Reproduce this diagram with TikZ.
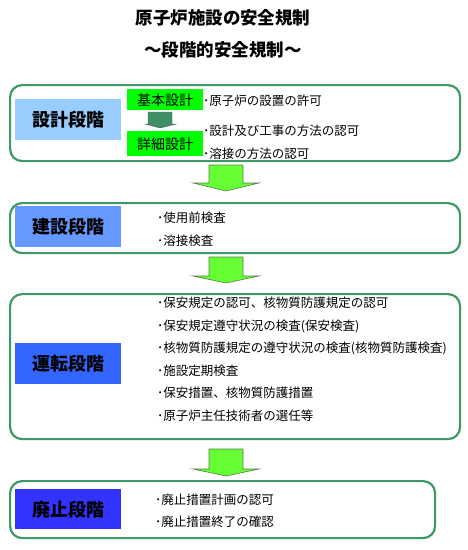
\documentclass[tikz,border=0pt]{standalone}
\usepackage{fontspec}
\setmainfont{Noto Sans CJK JP}
\definecolor{stageline}{HTML}{3F9966}
\definecolor{arrowgreen}{HTML}{66FF33}
\definecolor{arrowline}{HTML}{5A7A50}
\definecolor{smallarrow}{HTML}{3D8F66}
\definecolor{lblA}{HTML}{99CCFF}
\definecolor{lblB}{HTML}{6699FF}
\definecolor{lblC}{HTML}{3366FF}
\definecolor{lblD}{HTML}{3333FF}
\definecolor{subgreen}{HTML}{00FF00}
\begin{document}
\begin{tikzpicture}[x=1pt,y=-1pt,
  stage/.style={draw=stageline, line width=2.2pt, rounded corners=12pt, anchor=north west, inner sep=0pt},
  stagelabel/.style={anchor=north west, inner sep=0pt, minimum width=106pt, font=\fontsize{18}{18}\selectfont\bfseries},
  subbox/.style={fill=subgreen, anchor=north west, inner sep=0pt, minimum width=76pt, font=\fontsize{14}{14}\selectfont},
  item/.style={anchor=west, inner sep=0pt, font=\fontsize{12.5}{13}\selectfont},
  bigarrow/.style={fill=arrowgreen, draw=arrowline, line width=0.6pt},
  titletext/.style={inner sep=0pt, font=\fontsize{17.5}{18}\selectfont\bfseries}
]
\useasboundingbox (0,0) rectangle (468,550);
\fill[white] (0,0) rectangle (468,550);

% titles
\node[titletext] (t1) at (223,18) {原子炉施設の安全規制};
\node[titletext] (t2) at (223,50) {～段階的安全規制～};

% stage 1
\node[stage, minimum width=450pt, minimum height=76pt] (s1) at (9,84) {};
\node[stagelabel, fill=lblA, minimum height=41pt] (l1) at (15,99) {設計段階};
\node[subbox, minimum height=21pt] (b1) at (127,89) {基本設計};
\node[subbox, minimum height=25pt] (b2) at (127,131) {詳細設計};
\draw[fill=smallarrow, draw=gray!70!black, line width=0.4pt]
  (148,112) -- (172,112) -- (172,124) -- (176,124) -- (160,128) -- (145,124) -- (148,124) -- cycle;
\node[item] (i11) at (203,101) {･原子炉の設置の許可};
\node[item] (i12) at (203,131) {･設計及び工事の方法の認可};
\node[item] (i13) at (203,154) {･溶接の方法の認可};

% arrow 1
\draw[bigarrow] (209,165) -- (243,165) -- (243,183) -- (259,183) -- (226,191) -- (193,183) -- (209,183) -- cycle;

% stage 2
\node[stage, minimum width=450pt, minimum height=50pt] (s2) at (9,202) {};
\node[stagelabel, fill=lblB, minimum height=41pt] (l2) at (15,206) {建設段階};
\node[item] (i21) at (157,218) {･使用前検査};
\node[item] (i22) at (157,241) {･溶接検査};

% arrow 2
\draw[bigarrow] (209,257) -- (243,257) -- (243,276) -- (259,276) -- (226,283) -- (193,276) -- (209,276) -- cycle;

% stage 3
\node[stage, minimum width=450pt, minimum height=145pt] (s3) at (9,293) {};
\node[stagelabel, fill=lblC, minimum height=41pt] (l3) at (15,343) {運転段階};
\node[item] (i31) at (157,303) {･保安規定の認可、核物質防護規定の認可};
\node[item] (i32) at (157,326) {･保安規定遵守状況の検査(保安検査)};
\node[item] (i33) at (157,348) {･核物質防護規定の遵守状況の検査(核物質防護検査)};
\node[item] (i34) at (157,371) {･施設定期検査};
\node[item] (i35) at (157,393) {･保安措置、核物質防護措置};
\node[item] (i36) at (157,416) {･原子炉主任技術者の選任等};

% arrow 3
\draw[bigarrow] (209,449) -- (243,449) -- (243,469) -- (259,469) -- (226,476) -- (193,469) -- (209,469) -- cycle;

% stage 4
\node[stage, minimum width=425pt, minimum height=57pt] (s4) at (9,480) {};
\node[stagelabel, fill=lblD, minimum height=40pt] (l4) at (15,489) {廃止段階};
\node[item] (i41) at (155,500) {･廃止措置計画の認可};
\node[item] (i42) at (155,522) {･廃止措置終了の確認};
\end{tikzpicture}
\end{document}
